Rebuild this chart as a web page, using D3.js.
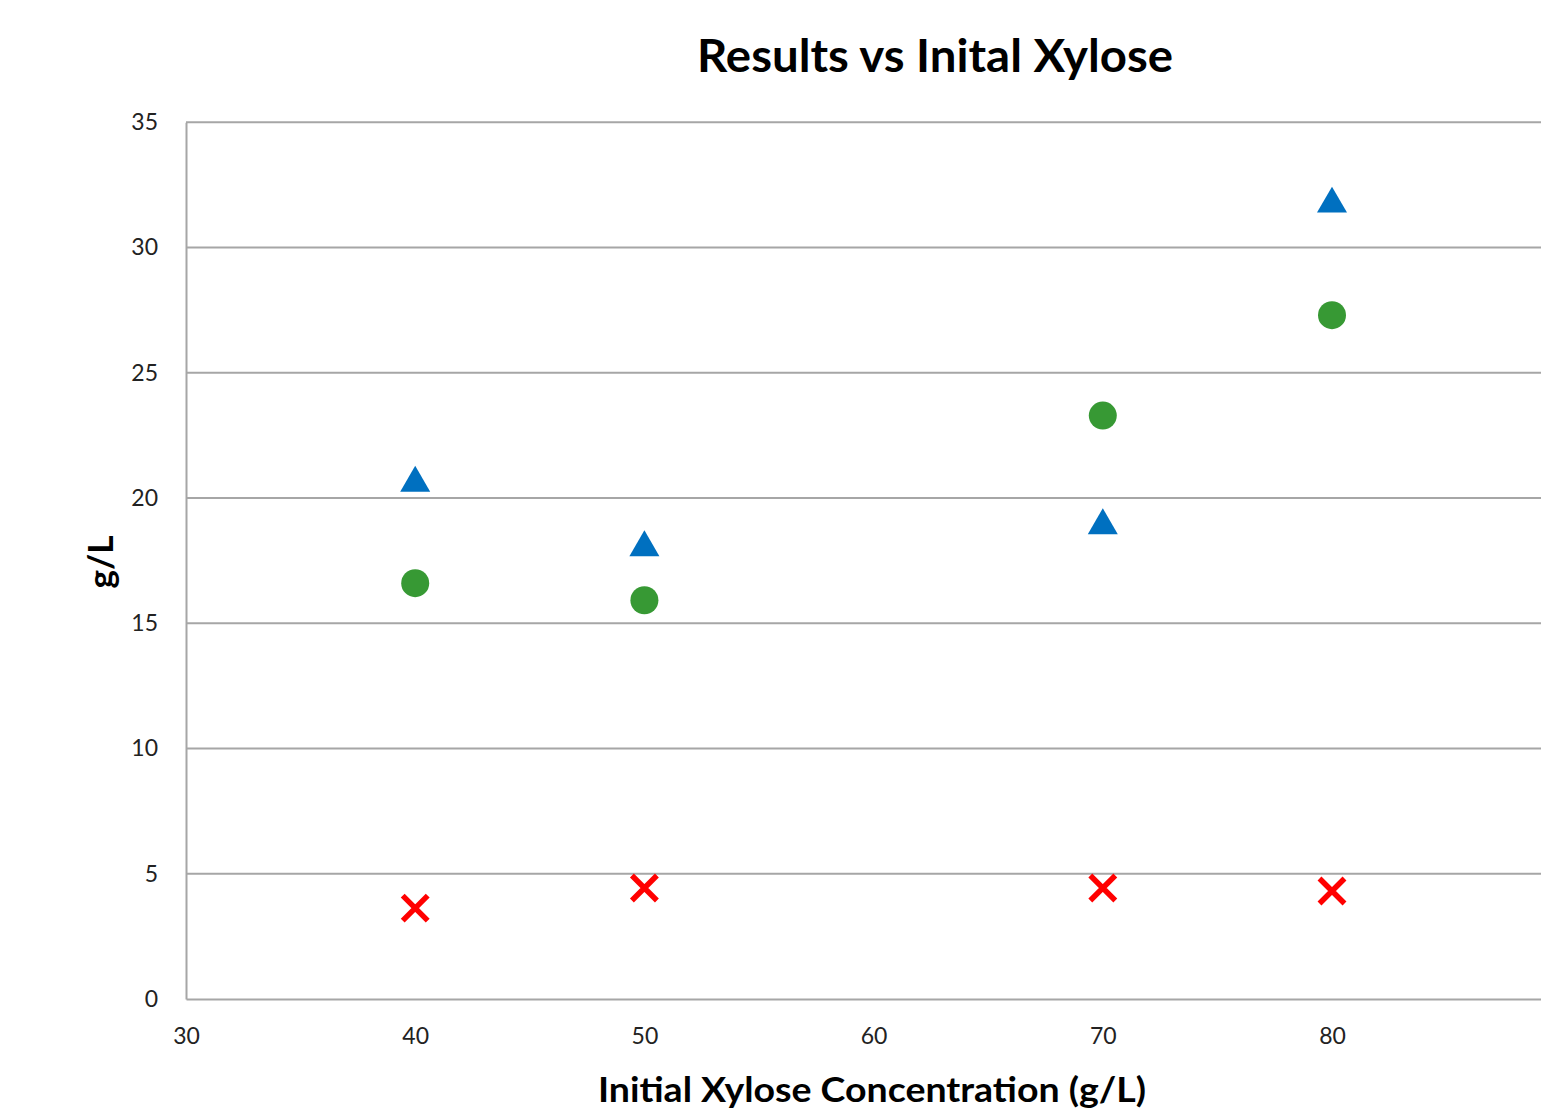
<!DOCTYPE html>
<html>
<head>
<meta charset="utf-8">
<script src="https://cdn.jsdelivr.net/npm/d3@7"></script>
<style>
  html, body { margin: 0; padding: 0; background: #fff; overflow: hidden; }
  svg { display: block; }
</style>
</head>
<body>
<svg id="chart" width="1541" height="1113"></svg>
<script>
// ---- data ----
const xValues = [40, 50, 70, 80];
const triangleSeries = [20.72, 18.14, 19.02, 31.86];
const circleSeries = [16.6, 15.92, 23.29, 27.3];
const crossSeries = [3.63, 4.43, 4.43, 4.31];
const yTicks = [0, 5, 10, 15, 20, 25, 30, 35];
const xTicks = [30, 40, 50, 60, 70, 80];
const titleText = "Results vs Inital Xylose";
const xLabelText = "Initial Xylose Concentration (g/L)";
const yLabelText = "g/L";

// ---- layout ----
const plotLeft = 186, plotTop = 122.3, plotBottom = 999;
const pxPer10 = 229.2;
const plotRight = plotLeft + pxPer10 * 6;

const svg = d3.select("#chart");
const font = "Lato, 'Open Sans', sans-serif";

const x = d3.scaleLinear().domain([30, 90]).range([plotLeft, plotRight]);
const y = d3.scaleLinear().domain([0, 35]).range([plotBottom, plotTop]);

// gridlines
svg.append("g").selectAll("line").data(yTicks.filter(d => d > 0)).join("line")
  .attr("x1", plotLeft).attr("x2", plotRight)
  .attr("y1", d => y(d)).attr("y2", d => y(d))
  .attr("stroke", "#a6a6a6").attr("stroke-width", 2);

// axes
const yAxis = d3.axisLeft(y).tickValues(yTicks).tickSize(0).tickPadding(28);
const gy = svg.append("g").attr("transform", `translate(${plotLeft},0)`).call(yAxis);
gy.select(".domain").attr("stroke", "#a6a6a6").attr("stroke-width", 2);
gy.selectAll("text").attr("font-family", font).attr("font-size", 23).attr("fill", "#222").attr("dy", "0.32em");

const xAxis = d3.axisBottom(x).tickValues(xTicks).tickSize(0).tickPadding(29);
const gx = svg.append("g").attr("transform", `translate(0,${plotBottom})`).call(xAxis);
gx.select(".domain").attr("stroke", "#a6a6a6").attr("stroke-width", 2);
gx.selectAll("text").attr("font-family", font).attr("font-size", 23).attr("fill", "#222");

// markers
const triSym = d3.symbol().type(d3.symbolTriangle).size(390);
svg.append("g").selectAll("path").data(xValues.map((v, i) => [v, triangleSeries[i]])).join("path")
  .attr("d", triSym)
  .attr("transform", d => `translate(${x(d[0])},${y(d[1]) + 3})`)
  .attr("fill", "#0070C0");

svg.append("g").selectAll("circle").data(xValues.map((v, i) => [v, circleSeries[i]])).join("circle")
  .attr("cx", d => x(d[0])).attr("cy", d => y(d[1])).attr("r", 14)
  .attr("fill", "#379934");

const cs = 12.5;
svg.append("g").selectAll("path").data(xValues.map((v, i) => [v, crossSeries[i]])).join("path")
  .attr("d", `M${-cs},${-cs}L${cs},${cs}M${-cs},${cs}L${cs},${-cs}`)
  .attr("transform", d => `translate(${x(d[0])},${y(d[1])})`)
  .attr("stroke", "#FF0000").attr("stroke-width", 5.5).attr("fill", "none");

// title
svg.append("text").attr("x", 935).attr("y", 72).attr("text-anchor", "middle")
  .attr("font-family", font).attr("font-weight", "bold").attr("font-size", 46)
  .attr("textLength", 476).attr("lengthAdjust", "spacingAndGlyphs")
  .attr("fill", "#000").text(titleText);

// x label
svg.append("text").attr("x", 872).attr("y", 1102).attr("text-anchor", "middle")
  .attr("font-family", font).attr("font-weight", "bold").attr("font-size", 35)
  .attr("textLength", 548).attr("lengthAdjust", "spacingAndGlyphs")
  .attr("fill", "#000").text(xLabelText);

// y label
svg.append("text").attr("transform", "translate(113,562) rotate(-90)").attr("text-anchor", "middle")
  .attr("font-family", font).attr("font-weight", "bold").attr("font-size", 35)
  .attr("fill", "#000").text(yLabelText);
</script>
</body>
</html>
